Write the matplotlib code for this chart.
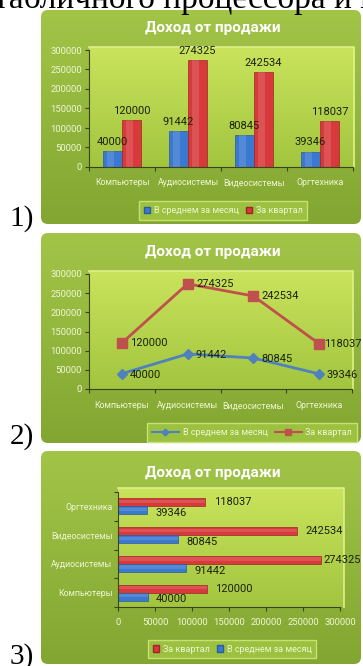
import matplotlib
matplotlib.use("Agg")
import matplotlib.pyplot as plt
import matplotlib.colors as mcolors
import numpy as np
from matplotlib.patches import FancyBboxPatch, Patch
from matplotlib.lines import Line2D
from matplotlib.transforms import IdentityTransform

W, H = 363, 666

categories = ["Компьютеры", "Аудиосистемы", "Видеосистемы", "Оргтехника"]
per_month = [40000, 91442, 80845, 39346]
per_quarter = [120000, 274325, 242534, 118037]
series = ["В среднем за месяц", "За квартал"]
value_ticks = [0, 50000, 100000, 150000, 200000, 250000, 300000]
title = "Доход от продажи"
heading = "табличного процессора и п"
panel_marks = ["1)", "2)", "3)"]

SANS = ["Roboto", "DejaVu Sans"]
SERIF = ["Liberation Serif", "DejaVu Serif"]
BLUE = "#3b78d0"
RED = "#d8393b"
LINE_BLUE = "#4f81bd"
LINE_RED = "#c0504d"
TICK_TXT = "#eef6d2"
VALUE_TXT = "#1c220e"
AXIS = "#3a4418"

plt.rcParams["font.family"] = SANS

fig = plt.figure(figsize=(W / 100, H / 100), dpi=100)
fig.patch.set_facecolor("white")


def frac(x, y, w, h):
    # pixel box (top-left origin) -> figure fraction
    return [x / W, 1 - (y + h) / H, w / W, h / H]


def shade(x, y, w, h, top, bottom, radius=0, z=0, edge=None):
    bg = fig.add_axes(frac(x, y, w, h), zorder=z)
    bg.set_axis_off()
    c0 = np.array(mcolors.to_rgb(top))
    c1 = np.array(mcolors.to_rgb(bottom))
    t = np.linspace(0, 1, 128)[:, None, None]
    img = c0 + (c1 - c0) * t
    im = bg.imshow(img, extent=[0, 1, 0, 1], aspect="auto", interpolation="bilinear")
    bg.set_xlim(0, 1)
    bg.set_ylim(0, 1)
    if radius:
        clip = FancyBboxPatch((x, H - y - h), w, h,
                              boxstyle=f"round,pad=0,rounding_size={radius}",
                              transform=IdentityTransform(),
                              facecolor="none", edgecolor="none")
        im.set_clip_path(clip)
    if edge:
        bg.plot([0, 1, 1], [1, 1, 0], color=edge, lw=1.2, transform=bg.transAxes,
                clip_on=False)
    return bg


def style_axes(ax, cat_axis, cat_pad, val_pad):
    val_axis = "y" if cat_axis == "x" else "x"
    ax.patch.set_visible(False)
    for s in ("top", "right"):
        ax.spines[s].set_visible(False)
    for s in ("left", "bottom"):
        ax.spines[s].set_color(AXIS)
        ax.spines[s].set_linewidth(0.8)
    cat = ax.xaxis if cat_axis == "x" else ax.yaxis
    val = ax.yaxis if cat_axis == "x" else ax.xaxis
    cat.set_ticks(range(len(categories)), categories)
    cat.set_ticks(np.arange(-0.5, len(categories)), minor=True)
    val.set_ticks(value_ticks, [str(v) for v in value_ticks])
    ax.tick_params(axis=cat_axis, which="major", length=0, pad=cat_pad,
                   labelsize=6.3, labelcolor=TICK_TXT)
    ax.tick_params(axis=cat_axis, which="minor", length=3, color=AXIS, width=0.8)
    ax.tick_params(axis=val_axis, length=3, color=AXIS, width=0.8, pad=val_pad,
                   labelsize=6.8, labelcolor=TICK_TXT)


def legend(handles, labels, cx, cy, **kw):
    fig.legend(handles, labels, loc="center", bbox_to_anchor=(cx / W, 1 - cy / H),
               ncol=2, fontsize=6.5, labelcolor=TICK_TXT, frameon=True,
               fancybox=False, facecolor="#9cc140", edgecolor="#c6e072",
               framealpha=1, handletextpad=0.4, columnspacing=0.8,
               borderpad=0.55, **kw)


def panel_title(cy):
    fig.text(213 / W, 1 - cy / H, title, ha="center", va="center", fontsize=11,
             weight="bold", color="white")


def shine(bars, horizontal=False):
    # faint highlight strip to give the bars a rounded look
    for b in bars:
        ax = b.axes
        if horizontal:
            ax.barh(b.get_y() + b.get_height() * 0.6, b.get_width(),
                    b.get_height() * 0.4, left=0, color="white", alpha=0.13, lw=0)
        else:
            ax.bar(b.get_x() + b.get_width() * 0.4, b.get_height(),
                   b.get_width() * 0.4, color="white", alpha=0.13, lw=0)


x = np.arange(len(categories))

# heading line cut by the top of the page, and the item numbers
fig.text(-6 / W, 1 - 8 / H, heading, ha="left", va="baseline", fontsize=24,
         family=SERIF, color="black")
for mark, base in zip(panel_marks, [226, 444, 664]):
    fig.text(34 / W, 1 - base / H, mark, ha="right", va="baseline", fontsize=21,
             family=SERIF, color="black")

# 1) clustered columns
shade(41, 10, 320, 214, "#a2c548", "#83a632", radius=7, z=0)
shade(89, 47, 265, 120, "#cae35c", "#a2c53f", z=1, edge="#dff08a")
ax1 = fig.add_axes(frac(89, 50, 264, 117), zorder=2)
b_month = ax1.bar(x - 0.145, per_month, 0.29, color=BLUE, edgecolor="#2b5c9f", lw=0.5)
b_quarter = ax1.bar(x + 0.145, per_quarter, 0.29, color=RED, edgecolor="#9d2728", lw=0.5)
shine(b_month)
shine(b_quarter)
ax1.bar_label(b_month, fontsize=8, color=VALUE_TXT, padding=3)
ax1.bar_label(b_quarter, fontsize=8, color=VALUE_TXT, padding=3)
ax1.set_xlim(-0.5, 3.5)
ax1.set_ylim(0, 300000)
style_axes(ax1, "x", cat_pad=8, val_pad=2)
panel_title(28)
legend([Patch(facecolor=BLUE, edgecolor="#2b5c9f"), Patch(facecolor=RED, edgecolor="#9d2728")],
       series, 223, 210.5, handlelength=0.7, handleheight=0.7)

# 2) lines with markers
shade(41, 233, 320, 210, "#a2c548", "#83a632", radius=7, z=0)
shade(89, 271, 264, 118, "#cae35c", "#a2c53f", z=1, edge="#dff08a")
ax2 = fig.add_axes(frac(89, 274, 263, 115), zorder=2)
ax2.plot(x, per_month, color=LINE_BLUE, lw=2, marker="D", ms=5.5)
ax2.plot(x, per_quarter, color=LINE_RED, lw=2, marker="s", ms=6.5)
for xi, v in zip(x, per_month):
    ax2.annotate(str(v), (xi, v), xytext=(5.5, -1), textcoords="offset points",
                 ha="left", va="center", fontsize=8, color=VALUE_TXT)
for xi, v in zip(x, per_quarter):
    dx = 3.5 if xi == x[-1] else 6
    ax2.annotate(str(v), (xi, v), xytext=(dx, 0), textcoords="offset points",
                 ha="left", va="center", fontsize=8, color=VALUE_TXT,
                 annotation_clip=False)
ax2.set_xlim(-0.5, 3.5)
ax2.set_ylim(0, 300000)
style_axes(ax2, "x", cat_pad=9, val_pad=2)
panel_title(252)
legend([Line2D([], [], color=LINE_BLUE, lw=1.5, marker="D", ms=3.5),
        Line2D([], [], color=LINE_RED, lw=1.5, marker="s", ms=4)],
       series, 252, 432.5, handlelength=3)

# 3) clustered horizontal bars
shade(41, 451, 320, 213, "#a2c548", "#83a632", radius=7, z=0)
shade(118, 488, 226, 119, "#cae35c", "#a2c53f", z=1, edge="#dff08a")
ax3 = fig.add_axes(frac(118, 492, 222, 115), zorder=2)
h_quarter = ax3.barh(x + 0.14, per_quarter, 0.28, color=RED, edgecolor="#9d2728", lw=0.5)
h_month = ax3.barh(x - 0.14, per_month, 0.28, color=BLUE, edgecolor="#2b5c9f", lw=0.5)
shine(h_quarter, horizontal=True)
shine(h_month, horizontal=True)
for yi, v in zip(x, per_quarter):
    # labels near the right edge are pulled in so they stay inside the chart
    dx = 1.5 if v > 260000 else 6
    ax3.annotate(str(v), (v, yi + 0.14), xytext=(dx, 0), textcoords="offset points",
                 ha="left", va="center", fontsize=8, color=VALUE_TXT,
                 annotation_clip=False)
for yi, v in zip(x, per_month):
    ax3.annotate(str(v), (v, yi - 0.14), xytext=(6, -2), textcoords="offset points",
                 ha="left", va="center", fontsize=8, color=VALUE_TXT)
ax3.set_ylim(-0.5, 3.5)
ax3.set_xlim(0, 300000)
style_axes(ax3, "y", cat_pad=4, val_pad=5)
panel_title(473)
legend([Patch(facecolor=RED, edgecolor="#9d2728"), Patch(facecolor=BLUE, edgecolor="#2b5c9f")],
       series[::-1], 232, 649, handlelength=0.7, handleheight=0.7)

fig.savefig("out.png", dpi=100)
